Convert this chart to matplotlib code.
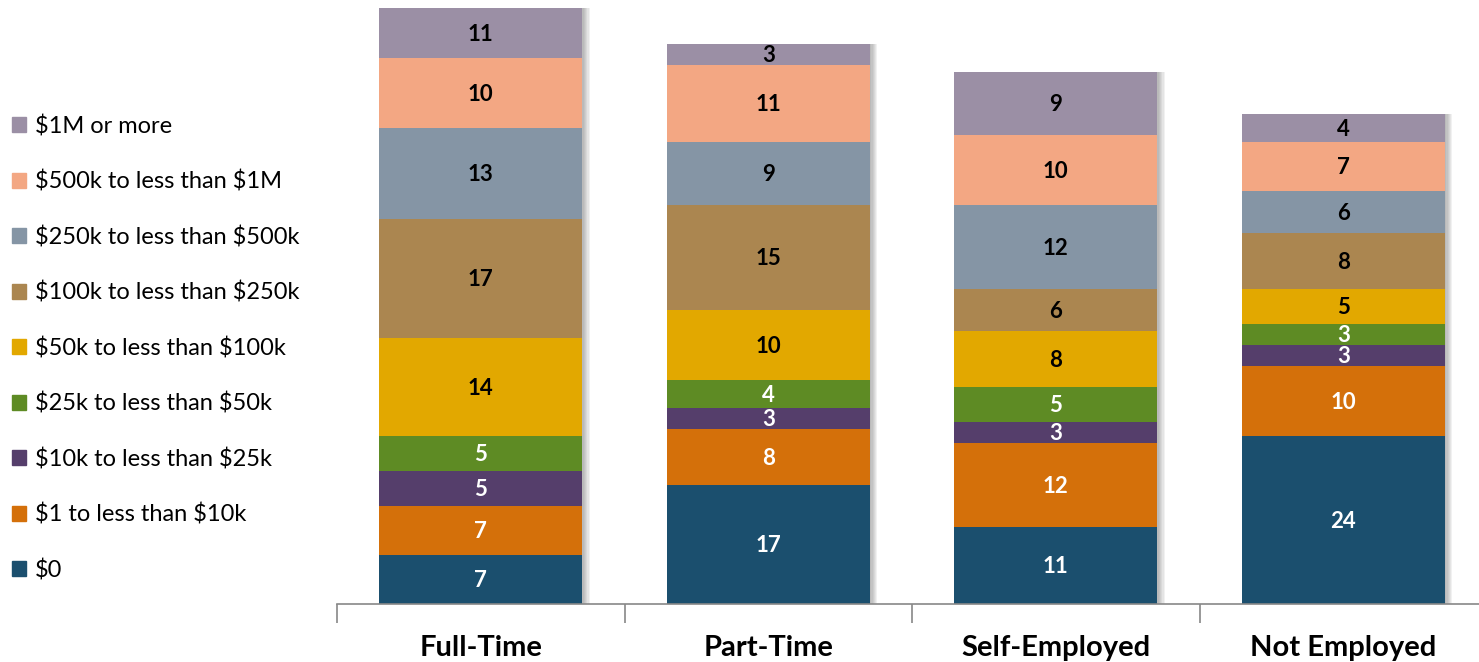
import matplotlib
matplotlib.use("Agg")
import matplotlib.pyplot as plt
import matplotlib.patches as mpatches
import numpy as np

categories = ["Full-Time", "Part-Time", "Self-Employed", "Not Employed"]
series_names = ["$0", "$1 to less than $10k", "$10k to less than $25k",
                "$25k to less than $50k", "$50k to less than $100k",
                "$100k to less than $250k", "$250k to less than $500k",
                "$500k to less than $1M", "$1M or more"]
v_zero = [7, 17, 11, 24]
v_1_10k = [7, 8, 12, 10]
v_10_25k = [5, 3, 3, 3]
v_25_50k = [5, 4, 5, 3]
v_50_100k = [14, 10, 8, 5]
v_100_250k = [17, 15, 6, 8]
v_250_500k = [13, 9, 12, 6]
v_500k_1m = [10, 11, 10, 7]
v_1m_plus = [11, 3, 9, 4]
series_values = [v_zero, v_1_10k, v_10_25k, v_25_50k, v_50_100k,
                 v_100_250k, v_250_500k, v_500k_1m, v_1m_plus]

colors = ["#1B4F6E", "#D4700A", "#553E6B", "#5E8B24", "#E2A800",
          "#AB8650", "#8595A5", "#F3A783", "#9B8FA5"]
text_colors = ["white", "white", "white", "white", "black",
               "black", "black", "black", "black"]

plt.rcParams['font.family'] = ['Lato', 'DejaVu Sans']
plt.rcParams['text.parse_math'] = False

fig = plt.figure(figsize=(14.79, 6.62), dpi=100)
ax = fig.add_axes([337/1479, 58/662, 1150/1479, 596/662])

YMAX = 85.1
x = np.arange(len(categories))
width = 0.706
totals = np.sum(np.array(series_values), axis=0)

# soft shadow on the right
for dx in [0.026, 0.022, 0.018, 0.014, 0.010, 0.006]:
    ax.bar(x + dx, totals, width, color="#444444", alpha=0.07, zorder=1,
           linewidth=0)

bottom = np.zeros(len(categories))
for vals, col, tc in zip(series_values, colors, text_colors):
    vals = np.array(vals, dtype=float)
    ax.bar(x, vals, width, bottom=bottom, color=col, zorder=2, linewidth=0)
    for xi, b, v in zip(x, bottom, vals):
        top = min(b + v, YMAX)
        ax.text(xi, (b + top) / 2 - 0.2, f"{int(v)}", ha="center", va="center",
                color=tc, fontsize=16, fontweight="bold", zorder=3,
                clip_on=True)
    bottom += vals

ax.set_ylim(0, YMAX)
ax.set_xlim(-0.5, len(categories) - 0.5)
ax.set_yticks([])
for s in ["left", "right", "top"]:
    ax.spines[s].set_visible(False)
ax.spines["bottom"].set_color("#888888")
ax.spines["bottom"].set_linewidth(1.2)
ax.set_xticks(np.arange(len(categories) + 1) - 0.5, minor=True)
ax.tick_params(axis="x", which="minor", length=14, width=1.2, color="#888888",
               direction="out")
ax.set_xticks(x)
ax.set_xticklabels(categories, fontsize=21, fontweight="bold")
ax.tick_params(axis="x", which="major", length=0, pad=22)

handles = [mpatches.Patch(color=c, label=n) for c, n in zip(colors, series_names)]
leg = fig.legend(handles[::-1], series_names[::-1], loc="upper left",
                 bbox_to_anchor=(0.0035, 1 - 108/662), frameon=False,
                 fontsize=17, handlelength=0.6, handleheight=0.6,
                 handletextpad=0.35, labelspacing=1.42, borderaxespad=0.0,
                 borderpad=0.3)

fig.savefig("out.png", dpi=100)
